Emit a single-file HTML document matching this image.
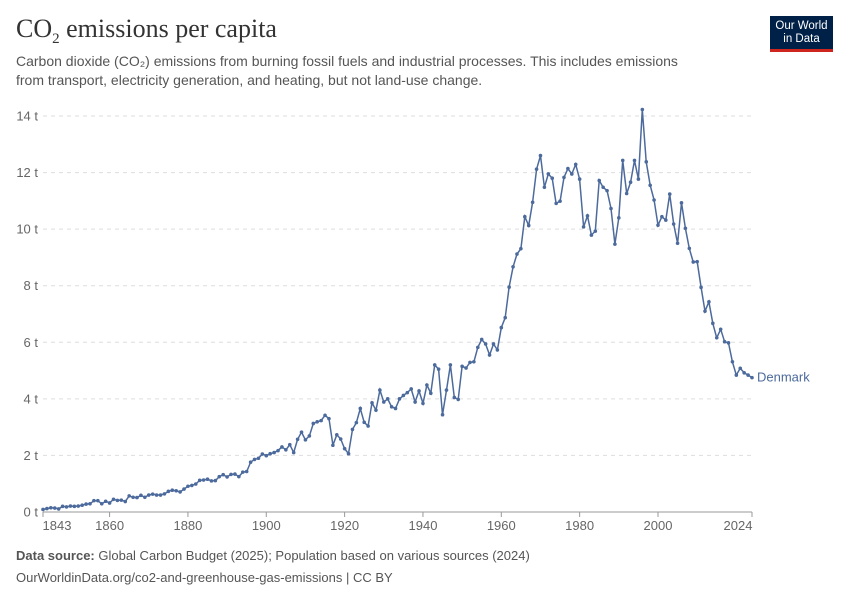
<!DOCTYPE html>
<html><head><meta charset="utf-8"><style>
body{margin:0;background:#fff;width:850px;height:600px;overflow:hidden;font-family:"Liberation Sans",sans-serif;position:relative}
.t{position:absolute;margin:0}
</style></head><body>
<div class="t" style="left:16px;top:14px;font-family:'Liberation Serif',serif;font-size:26px;color:#333">CO<sub style="font-size:15px">2</sub> emissions per capita</div>
<div class="t" style="left:16px;top:52px;width:665px;font-size:14px;line-height:19px;color:#555">Carbon dioxide (CO₂) emissions from burning fossil fuels and industrial processes. This includes emissions from transport, electricity generation, and heating, but not land-use change.</div>
<div class="t" style="left:770px;top:16px;width:63px;height:36px;background:#002147;border-bottom:3px solid #ce261e;box-sizing:border-box;color:#fff;font-size:11.5px;line-height:13px;text-align:center;padding-top:4px">Our World<br>in Data</div>
<svg id="chart" width="850" height="600" style="position:absolute;left:0;top:0"></svg>
<div class="t" style="left:16px;top:548px;font-size:13px;color:#555"><b>Data source:</b> Global Carbon Budget (2025); Population based on various sources (2024)</div>
<div class="t" style="left:16px;top:570px;font-size:13px;color:#555">OurWorldinData.org/co2-and-greenhouse-gas-emissions | CC BY</div>
<script>
const startYear=1843;
const values=[0.09,0.12,0.15,0.14,0.11,0.2,0.18,0.21,0.2,0.21,0.24,0.28,0.29,0.4,0.4,0.29,0.38,0.32,0.45,0.41,0.42,0.37,0.57,0.52,0.51,0.59,0.52,0.6,0.63,0.6,0.6,0.64,0.73,0.77,0.75,0.71,0.81,0.91,0.94,0.99,1.12,1.13,1.16,1.1,1.11,1.25,1.32,1.24,1.33,1.34,1.25,1.41,1.43,1.76,1.86,1.9,2.05,1.99,2.06,2.1,2.17,2.3,2.2,2.38,2.1,2.57,2.82,2.55,2.69,3.13,3.19,3.23,3.42,3.3,2.36,2.73,2.58,2.24,2.06,2.92,3.16,3.66,3.17,3.04,3.86,3.6,4.31,3.89,4.0,3.72,3.66,4.0,4.12,4.22,4.35,3.89,4.28,3.84,4.49,4.2,5.2,5.05,3.44,4.31,5.2,4.05,3.98,5.15,5.09,5.29,5.31,5.82,6.1,5.94,5.55,5.94,5.73,6.52,6.87,7.95,8.67,9.12,9.31,10.44,10.13,10.95,12.12,12.6,11.48,11.95,11.8,10.91,10.99,11.83,12.14,11.95,12.29,11.77,10.08,10.47,9.79,9.93,11.72,11.48,11.36,10.73,9.47,10.4,12.43,11.26,11.66,12.43,11.77,14.23,12.38,11.55,11.03,10.14,10.44,10.32,11.24,10.18,9.5,10.93,10.03,9.32,8.84,8.85,7.94,7.1,7.43,6.67,6.16,6.46,6.02,5.98,5.31,4.84,5.08,4.92,4.84,4.75];
const yTicks=[0,2,4,6,8,10,12,14];
const xTicks=[1843,1860,1880,1900,1920,1940,1960,1980,2000,2024];
const svg=document.getElementById('chart');const NS='http://www.w3.org/2000/svg';
const X=y=>43+(y-1843)*(752-43)/(2024-1843);
const Y=v=>512-v*(512-116)/14;
function mk(t,a,p){const e=document.createElementNS(NS,t);for(const k in a)e.setAttribute(k,a[k]);(p||svg).appendChild(e);return e;}
yTicks.forEach(t=>{
 const l=mk('line',{x1:43,x2:752,y1:Y(t),y2:Y(t),stroke:t?'#ddd':'#999','stroke-dasharray':t?'4,4':'none'});
 
 
 const tx=mk('text',{x:38,y:Y(t)+4.5,'text-anchor':'end','font-size':13,fill:'#666','font-family':'Liberation Sans'});
 tx.textContent=t+' t';
 
 
});
xTicks.forEach(t=>{
 const l=mk('line',{x1:X(t),x2:X(t),y1:512,y2:517,stroke:'#999'});
 
 
 const tx=mk('text',{x:X(t)+(t==1843?14:t==2024?-14:0),y:530,'text-anchor':'middle','font-size':13,fill:'#666','font-family':'Liberation Sans'});
 tx.textContent=t;
 
 
});
const pts=values.map((v,i)=>X(startYear+i).toFixed(1)+','+Y(v).toFixed(1)).join(' ');
const pl=mk('polyline',{points:pts,fill:'none',stroke:'#4c6a9c','stroke-width':1.5});


values.forEach((v,i)=>{
 const c=mk('circle',{cx:X(startYear+i),cy:Y(v),r:1.8,fill:'#4c6a9c'});
 
 
});
const lab=mk('text',{x:757,y:Y(values[values.length-1])+4,'font-size':13,fill:'#4c6a9c','font-family':'Liberation Sans'});
lab.textContent='Denmark';


</script>
</body></html>
